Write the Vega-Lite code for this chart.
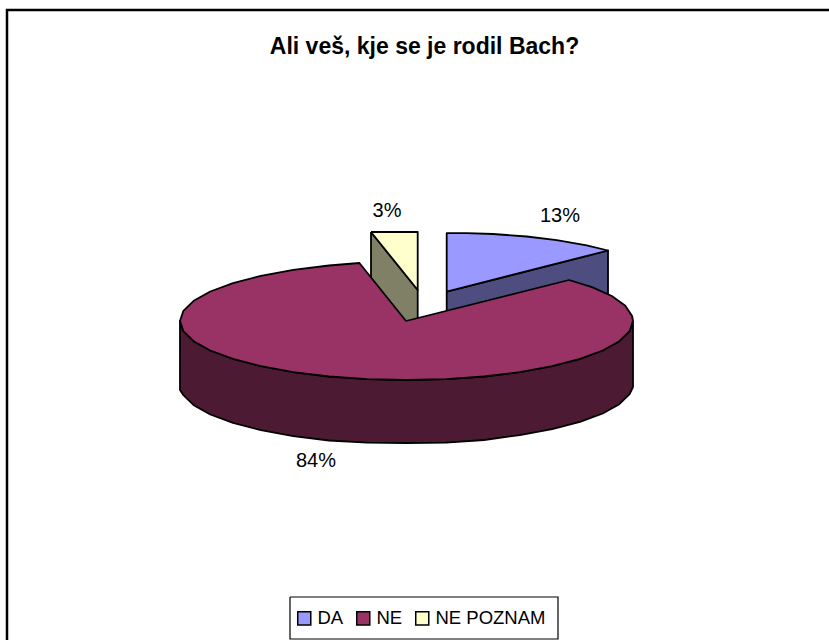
{"$schema":"https://vega.github.io/schema/vega-lite/v6.json","width":829,"height":640,"padding":0,"autosize":"none","background":"white","view":{"stroke":null},
"title":{"text":"Ali veš, kje se je rodil Bach?","font":"Liberation Sans","fontSize":23,"fontWeight":"bold","color":"black","anchor":"middle","frame":"group","dx":10,"offset":-77,"baseline":"alphabetic"},
"config":{"font":"Liberation Sans"},
"layer":[
{"data":{"values":[{"i":0,"x":7,"y":640},{"i":1,"x":7,"y":10},{"i":2,"x":829,"y":10}]},"mark":{"type":"line","stroke":"black","strokeWidth":2.5,"clip":false},"encoding":{"x":{"field":"x","type":"quantitative","scale":{"domain":[0,829]},"axis":null},"y":{"field":"y","type":"quantitative","scale":{"domain":[640,0]},"axis":null},"order":{"field":"i"}}},
{"data":{"values":[{"i":0,"x":290,"y":597},{"i":1,"x":558,"y":597},{"i":2,"x":558,"y":639},{"i":3,"x":290,"y":639},{"i":4,"x":290,"y":597}]},"mark":{"type":"line","stroke":"black","strokeWidth":1.2,"clip":false},"encoding":{"x":{"field":"x","type":"quantitative","scale":{"domain":[0,829]},"axis":null},"y":{"field":"y","type":"quantitative","scale":{"domain":[640,0]},"axis":null},"order":{"field":"i"}}},
{"data":{"values":[
{"part":"NE POZNAM side","i":0,"x":371,"y":232},{"part":"NE POZNAM side","i":1,"x":417.7,"y":290},{"part":"NE POZNAM side","i":2,"x":417.7,"y":353},{"part":"NE POZNAM side","i":3,"x":371,"y":295},{"part":"NE POZNAM side","i":4,"x":371,"y":232},
{"part":"NE POZNAM","i":0,"x":371,"y":232},{"part":"NE POZNAM","i":1,"x":417.7,"y":232},{"part":"NE POZNAM","i":2,"x":417.7,"y":290},{"part":"NE POZNAM","i":3,"x":371,"y":232},
{"part":"DA side","i":0,"x":446.7,"y":291.7},{"part":"DA side","i":1,"x":608,"y":250.5},{"part":"DA side","i":2,"x":608,"y":314.5},{"part":"DA side","i":3,"x":446.7,"y":355.7},{"part":"DA side","i":4,"x":446.7,"y":291.7},
{"part":"DA","i":0,"x":446.7,"y":291.7},{"part":"DA","i":1,"x":446.7,"y":233.2},{"part":"DA","i":2,"x":466.7,"y":233.2},{"part":"DA","i":3,"x":493,"y":234},{"part":"DA","i":4,"x":526.7,"y":236.5},{"part":"DA","i":5,"x":556.7,"y":240.1},{"part":"DA","i":6,"x":586.7,"y":245.3},{"part":"DA","i":7,"x":608,"y":250.5},{"part":"DA","i":8,"x":446.7,"y":291.7},
{"part":"NE side","i":0,"x":633,"y":321},{"part":"NE side","i":1,"x":629.6,"y":331.2},{"part":"NE side","i":2,"x":619.3,"y":341.2},{"part":"NE side","i":3,"x":602.7,"y":350.5},{"part":"NE side","i":4,"x":580,"y":358.9},{"part":"NE side","i":5,"x":552.1,"y":366.2},{"part":"NE side","i":6,"x":519.8,"y":372.1},{"part":"NE side","i":7,"x":484,"y":376.5},{"part":"NE side","i":8,"x":445.9,"y":379.1},{"part":"NE side","i":9,"x":406.5,"y":380},{"part":"NE side","i":10,"x":367.2,"y":379.1},{"part":"NE side","i":11,"x":329,"y":376.5},{"part":"NE side","i":12,"x":293.3,"y":372.1},{"part":"NE side","i":13,"x":260.9,"y":366.2},{"part":"NE side","i":14,"x":233,"y":358.9},{"part":"NE side","i":15,"x":210.3,"y":350.5},{"part":"NE side","i":16,"x":193.7,"y":341.2},{"part":"NE side","i":17,"x":183.4,"y":331.2},{"part":"NE side","i":18,"x":180,"y":321},
{"part":"NE side","i":19,"x":180,"y":390},{"part":"NE side","i":20,"x":183.4,"y":395.2},{"part":"NE side","i":21,"x":193.7,"y":405.2},{"part":"NE side","i":22,"x":210.3,"y":414.5},{"part":"NE side","i":23,"x":233,"y":422.9},{"part":"NE side","i":24,"x":260.9,"y":430.2},{"part":"NE side","i":25,"x":293.3,"y":436.1},{"part":"NE side","i":26,"x":329,"y":440.5},{"part":"NE side","i":27,"x":367.2,"y":442.6},{"part":"NE side","i":28,"x":406.5,"y":443},{"part":"NE side","i":29,"x":445.9,"y":442.6},{"part":"NE side","i":30,"x":484,"y":440},{"part":"NE side","i":31,"x":519.8,"y":435.1},{"part":"NE side","i":32,"x":552.1,"y":429.2},{"part":"NE side","i":33,"x":580,"y":421.9},{"part":"NE side","i":34,"x":602.7,"y":413.5},{"part":"NE side","i":35,"x":619.3,"y":404.2},{"part":"NE side","i":36,"x":629.6,"y":394.2},{"part":"NE side","i":37,"x":633,"y":387},{"part":"NE side","i":38,"x":633,"y":321},
{"part":"NE","i":0,"x":406,"y":321},{"part":"NE","i":1,"x":569,"y":280},{"part":"NE","i":2,"x":592,"y":287.1},{"part":"NE","i":3,"x":611.8,"y":296},{"part":"NE","i":4,"x":625.3,"y":305.7},{"part":"NE","i":5,"x":632.1,"y":315.9},{"part":"NE","i":6,"x":633,"y":321},{"part":"NE","i":7,"x":629.6,"y":331.2},{"part":"NE","i":8,"x":619.3,"y":341.2},{"part":"NE","i":9,"x":602.7,"y":350.5},{"part":"NE","i":10,"x":580,"y":358.9},{"part":"NE","i":11,"x":552.1,"y":366.2},{"part":"NE","i":12,"x":519.8,"y":372.1},{"part":"NE","i":13,"x":484,"y":376.5},{"part":"NE","i":14,"x":445.9,"y":379.1},{"part":"NE","i":15,"x":406.5,"y":380},{"part":"NE","i":16,"x":367.2,"y":379.1},{"part":"NE","i":17,"x":329,"y":376.5},{"part":"NE","i":18,"x":293.3,"y":372.1},{"part":"NE","i":19,"x":260.9,"y":366.2},{"part":"NE","i":20,"x":233,"y":358.9},{"part":"NE","i":21,"x":210.3,"y":350.5},{"part":"NE","i":22,"x":193.7,"y":341.2},{"part":"NE","i":23,"x":183.4,"y":331.2},{"part":"NE","i":24,"x":180,"y":321},{"part":"NE","i":25,"x":183.4,"y":310.8},{"part":"NE","i":26,"x":193.7,"y":300.8},{"part":"NE","i":27,"x":210.3,"y":291.5},{"part":"NE","i":28,"x":233,"y":283.1},{"part":"NE","i":29,"x":260.9,"y":275.8},{"part":"NE","i":30,"x":293.3,"y":269.9},{"part":"NE","i":31,"x":329,"y":265.5},{"part":"NE","i":32,"x":359.4,"y":263},{"part":"NE","i":33,"x":406,"y":321}
]},
"mark":{"type":"line","stroke":"black","strokeWidth":1.8,"strokeJoin":"round","clip":false,"interpolate":"linear"},
"encoding":{"x":{"field":"x","type":"quantitative","scale":{"domain":[0,829]},"axis":null},"y":{"field":"y","type":"quantitative","scale":{"domain":[640,0]},"axis":null},"order":{"field":"i"},
"fill":{"field":"part","type":"nominal","sort":null,"scale":{"domain":["DA","NE","NE POZNAM","DA side","NE side","NE POZNAM side"],"range":["#9999ff","#993366","#ffffcc","#4d4d80","#4d1a33","#808066"]},
"legend":{"values":["DA","NE","NE POZNAM"],"title":null,"orient":"none","legendX":290,"legendY":604,"direction":"horizontal","symbolType":"square","symbolSize":170,"symbolStrokeColor":"black","symbolStrokeWidth":1.5,"labelFont":"Liberation Sans","labelFontSize":18.5,"labelColor":"black","labelLimit":200,"padding":5,"columnPadding":9,"labelOffset":4}}}},
{"data":{"values":[{"label":"13%","x":560,"y":216},{"label":"3%","x":387,"y":211},{"label":"84%","x":316,"y":461}]},"mark":{"type":"text","font":"Liberation Sans","fontSize":20,"color":"black","align":"center","baseline":"middle"},"encoding":{"x":{"field":"x","type":"quantitative","scale":{"domain":[0,829]},"axis":null},"y":{"field":"y","type":"quantitative","scale":{"domain":[640,0]},"axis":null},"text":{"field":"label"}}}
]}
